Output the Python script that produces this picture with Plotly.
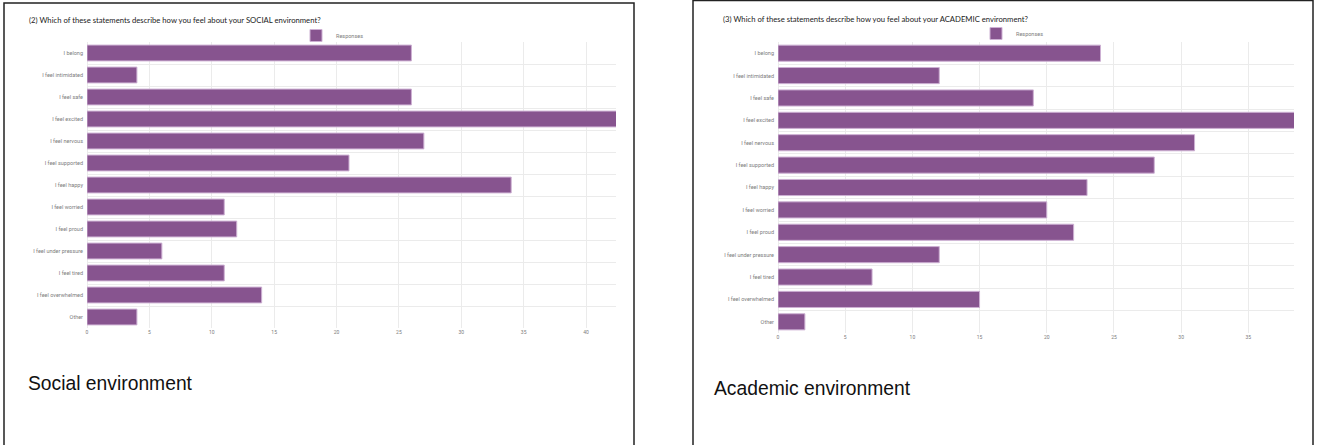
import plotly.graph_objects as go

W, H = 1319, 445

categories = ["I belong", "I feel intimidated", "I feel safe", "I feel excited", "I feel nervous",
              "I feel supported", "I feel happy", "I feel worried", "I feel proud",
              "I feel under pressure", "I feel tired", "I feel overwhelmed", "Other"]
# the longest bar of each chart runs past the (cropped) right edge of its picture
social_values = [26, 4, 26, 43, 27, 21, 34, 11, 12, 6, 11, 14, 4]
academic_values = [24, 12, 19, 39, 31, 28, 23, 20, 22, 12, 7, 15, 2]
series_name = "Responses"
social_title = "(2) Which of these statements describe how you feel about your SOCIAL environment?"
academic_title = "(3) Which of these statements describe how you feel about your ACADEMIC environment?"
social_caption = "Social environment"
academic_caption = "Academic environment"
x_ticks = [0, 5, 10, 15, 20, 25, 30, 35, 40]

BAR = "#87548f"
BAR_EDGE = "#cdb0d3"
GRID = "#ebebeb"
TICK = "#7d7d7d"

def px(x):
    return x / W

def py(y):
    return 1 - y / H

fig = go.Figure()
fig.add_trace(go.Bar(y=categories, x=social_values, orientation="h", name=series_name,
                     marker=dict(color=BAR, line=dict(color=BAR_EDGE, width=1)),
                     xaxis="x", yaxis="y", legend="legend"))
fig.add_trace(go.Bar(y=categories, x=academic_values, orientation="h", name=series_name,
                     marker=dict(color=BAR, line=dict(color=BAR_EDGE, width=1)),
                     xaxis="x2", yaxis="y2", legend="legend2"))

xcommon = dict(tickvals=x_ticks, showgrid=True, gridcolor=GRID, gridwidth=1,
               zeroline=True, zerolinecolor=GRID, zerolinewidth=1,
               tickfont=dict(family="Roboto", size=5, color=TICK), ticks="", showline=False,
               fixedrange=True)
ycommon = dict(type="category", autorange="reversed", tickson="boundaries", showgrid=True,
               gridcolor=GRID, gridwidth=1, ticks="", showline=False,
               tickfont=dict(family="Roboto", size=5.5, color=TICK), ticklabelstandoff=3)

fig.update_layout(
    width=W, height=H, margin=dict(l=0, r=0, t=0, b=0),
    paper_bgcolor="white", plot_bgcolor="white",
    bargap=0.28,
    xaxis=dict(domain=[px(87), px(616)], range=[0, 42.4], anchor="y", **xcommon),
    yaxis=dict(domain=[py(328), py(42)], anchor="x", **ycommon),
    xaxis2=dict(domain=[px(778), px(1294)], range=[0, 38.4], anchor="y2", **xcommon),
    yaxis2=dict(domain=[py(333), py(42)], anchor="x2", **ycommon),
    legend=dict(x=px(296), y=py(21), xanchor="left", yanchor="top", orientation="h",
                font=dict(family="Roboto", size=5.5, color=TICK), bgcolor="rgba(0,0,0,0)",
                itemwidth=30, tracegroupgap=0),
    legend2=dict(x=px(976), y=py(19), xanchor="left", yanchor="top", orientation="h",
                 font=dict(family="Roboto", size=5.5, color=TICK), bgcolor="rgba(0,0,0,0)",
                 itemwidth=30, tracegroupgap=0),
    showlegend=True,
)

fig.add_annotation(text=social_title, x=px(27), y=py(20), xref="paper", yref="paper",
                   xanchor="left", yanchor="middle", showarrow=False,
                   font=dict(family="Lato", size=7.7, color="#222222"))
fig.add_annotation(text=academic_title, x=px(721), y=py(19), xref="paper", yref="paper",
                   xanchor="left", yanchor="middle", showarrow=False,
                   font=dict(family="Lato", size=7.7, color="#222222"))
fig.add_annotation(text=social_caption, x=px(26), y=py(383), xref="paper", yref="paper",
                   xanchor="left", yanchor="middle", showarrow=False,
                   font=dict(family="Liberation Sans", size=19.3, color="#111111"))
fig.add_annotation(text=academic_caption, x=px(712), y=py(388), xref="paper", yref="paper",
                   xanchor="left", yanchor="middle", showarrow=False,
                   font=dict(family="Liberation Sans", size=19.3, color="#111111"))

# panel frames
fig.add_shape(type="rect", xref="paper", yref="paper", x0=px(4), x1=px(634), y0=py(450), y1=py(3),
              line=dict(color="#222222", width=1.5), fillcolor="rgba(0,0,0,0)", layer="above")
fig.add_shape(type="rect", xref="paper", yref="paper", x0=px(693), x1=px(1313), y0=py(450), y1=py(0.5),
              line=dict(color="#222222", width=1.5), fillcolor="rgba(0,0,0,0)", layer="above")

fig.write_html("out.html")
